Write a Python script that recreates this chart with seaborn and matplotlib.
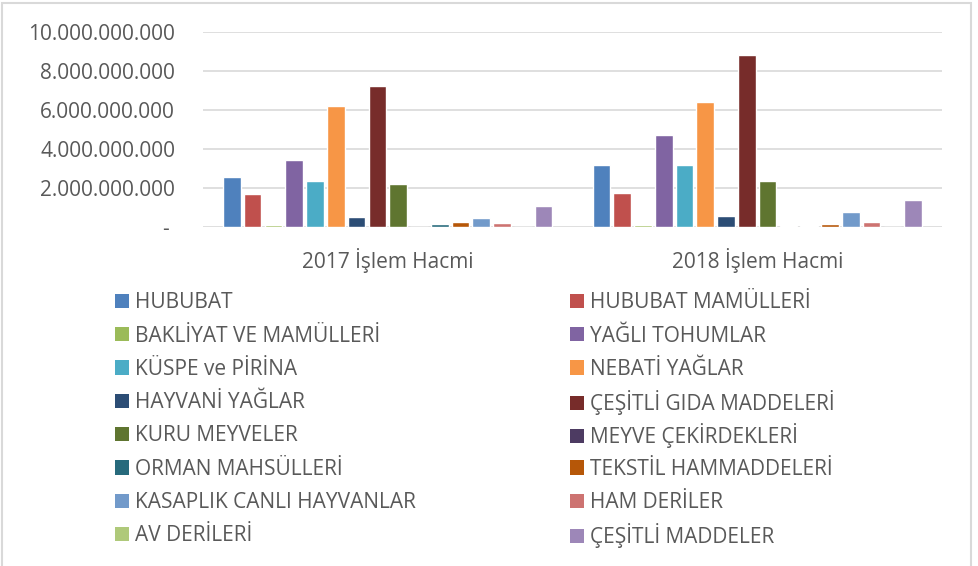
import pandas as pd
import matplotlib.pyplot as plt
import seaborn as sns
from matplotlib.patches import Patch, Rectangle
from matplotlib.ticker import FuncFormatter

donemler = ['2017 İşlem Hacmi', '2018 İşlem Hacmi']
gruplar = ['HUBUBAT', 'HUBUBAT MAMÜLLERİ', 'BAKLİYAT VE MAMÜLLERİ', 'YAĞLI TOHUMLAR',
           'KÜSPE ve PİRİNA', 'NEBATİ YAĞLAR', 'HAYVANİ YAĞLAR', 'ÇEŞİTLİ GIDA MADDELERİ',
           'KURU MEYVELER', 'MEYVE ÇEKİRDEKLERİ', 'ORMAN MAHSÜLLERİ', 'TEKSTİL HAMMADDELERİ',
           'KASAPLIK CANLI HAYVANLAR', 'HAM DERİLER', 'AV DERİLERİ', 'ÇEŞİTLİ MADDELER']
hacim_2017 = [2.54e9, 1.67e9, 0.09e9, 3.43e9, 2.35e9, 6.23e9, 0.48e9, 7.23e9,
              2.20e9, 0.01e9, 0.14e9, 0.26e9, 0.43e9, 0.19e9, 0.0, 1.05e9]
hacim_2018 = [3.16e9, 1.73e9, 0.09e9, 4.70e9, 3.16e9, 6.44e9, 0.55e9, 8.82e9,
              2.33e9, 0.02e9, 0.015e9, 0.13e9, 0.77e9, 0.26e9, 0.0, 1.37e9]
renkler = ['#4F81BD', '#C0504D', '#9BBB59', '#8064A2', '#4BACC6', '#F79646', '#2C4D75', '#772C2A',
           '#5F7530', '#4D3B62', '#276A7C', '#B65708', '#729ACA', '#CD7371', '#AFC97A', '#9D87B8']

df = pd.DataFrame({
    'donem': [donemler[0]] * len(gruplar) + [donemler[1]] * len(gruplar),
    'grup': gruplar + gruplar,
    'hacim': hacim_2017 + hacim_2018,
})

sns.set_style('white')
plt.rcParams['font.family'] = ['Open Sans', 'DejaVu Sans']
yazi_rengi = '#595959'
fs = 15

fig = plt.figure(figsize=(9.79, 5.66), dpi=100)
ax = fig.add_axes([203 / 979, 1 - 226.7 / 566, (942 - 203) / 979, (226.7 - 32.4) / 566])

sns.barplot(data=df, x='donem', y='hacim', hue='grup', order=donemler, hue_order=gruplar,
            palette=renkler, saturation=1, width=0.9, gap=0.15, legend=False, ax=ax)

ax.set_xlim(-0.5, 1.5)
ax.set_ylim(0, 10e9)
ax.set_yticks([0, 2e9, 4e9, 6e9, 8e9, 10e9])
ax.yaxis.set_major_formatter(FuncFormatter(
    lambda v, p: '- ' if v == 0 else f'{v:,.0f}'.replace(',', '.')))
ax.grid(axis='y', color='#D9D9D9', linewidth=1.2)
ax.set_axisbelow(True)
sns.despine(ax=ax, left=True, bottom=True)
ax.tick_params(axis='y', length=0, pad=20, labelsize=fs, labelcolor=yazi_rengi)
ax.tick_params(axis='x', length=0, pad=15, labelsize=fs, labelcolor=yazi_rengi)
ax.set_xlabel('')
ax.set_ylabel('')

# lejant: iki sutun, sabit satir araligi
for i, (grup, renk) in enumerate(zip(gruplar, renkler)):
    x0 = 115 if i % 2 == 0 else 570
    y0 = 302.7 + (i // 2) * 33.3
    fig.legend([Patch(facecolor=renk, edgecolor='none')], [grup], loc='center left',
               bbox_to_anchor=(x0 / 979, 1 - y0 / 566), frameon=False,
               fontsize=fs, labelcolor=yazi_rengi, handlelength=0.68, handleheight=0.68,
               handletextpad=0.3, borderpad=0, borderaxespad=0)

fig.add_artist(Rectangle((2 / 979, -0.1), (971.5 - 2) / 979, 1.1 - 2.5 / 566,
                         transform=fig.transFigure, fill=False, edgecolor='#D9D9D9', linewidth=1.5))

fig.savefig('out.png', dpi=100)
